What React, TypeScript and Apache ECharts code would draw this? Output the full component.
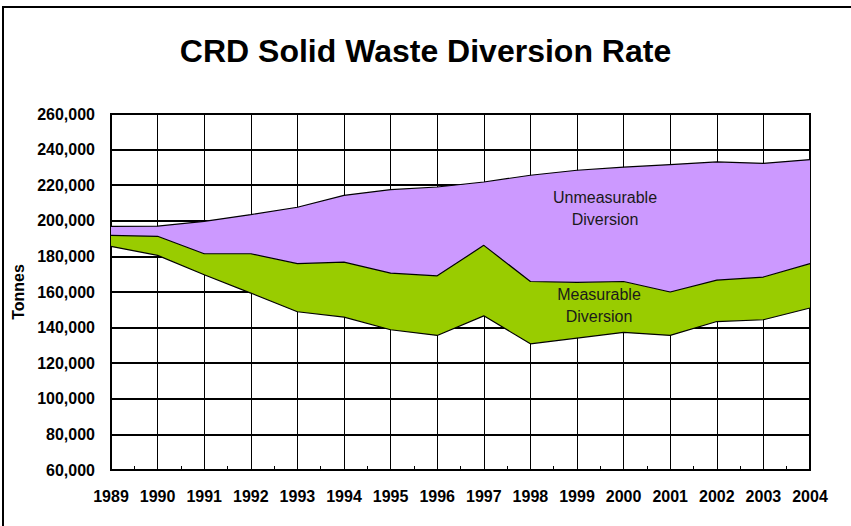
import React, { useEffect, useRef } from "react";
import * as echarts from "echarts";

const years = ["1989", "1990", "1991", "1992", "1993", "1994", "1995", "1996", "1997", "1998", "1999", "2000", "2001", "2002", "2003", "2004"];
// Boundary lines (tonnes)
const lowerLine = [185600, 180600, 169700, 159400, 148900, 145900, 138800, 135600, 146600, 130900, 134100, 137300, 135600, 143400, 144400, 151000];
const middleLine = [191800, 191300, 181500, 181500, 175900, 176800, 170600, 169100, 186200, 165900, 165400, 165900, 160000, 166700, 168400, 175900];
const upperLine = [196900, 197000, 199700, 203500, 207600, 214300, 217500, 219000, 221800, 225600, 228400, 230100, 231600, 233100, 232300, 234400];

const yMin = 60000;
const yMax = 260000;
const yStep = 20000;

const FONT = "'Liberation Sans', Arial, sans-serif";

export default function App() {
  const ref = useRef<HTMLDivElement>(null);
  useEffect(() => {
    if (!ref.current) return;
    const chart = echarts.init(ref.current, null, { renderer: "svg" });
    const measurable = middleLine.map((v, i) => v - lowerLine[i]);
    const unmeasurable = upperLine.map((v, i) => v - middleLine[i]);
    chart.setOption({
      animation: false,
      backgroundColor: "#fff",
      textStyle: { fontFamily: FONT },
      title: {
        text: "CRD Solid Waste Diversion Rate",
        left: "center",
        top: 30,
        textStyle: { fontFamily: FONT, fontSize: 32, fontWeight: "bold", color: "#000" },
      },
      grid: {
        left: 111,
        right: 41,
        top: 114,
        bottom: 56,
        show: true,
        borderColor: "#000",
        borderWidth: 2,
        backgroundColor: "transparent",
      },
      xAxis: [
        {
          type: "category",
          data: years,
          boundaryGap: false,
          axisLine: { show: true, lineStyle: { color: "#000", width: 2 } },
          axisTick: { show: false },
          axisLabel: {
            margin: 18,
            fontFamily: FONT,
            fontSize: 16,
            fontWeight: "bold",
            color: "#000",
            interval: 0,
          },
          splitLine: { show: true, lineStyle: { color: "#000", width: 1 } },
        },
        {
          type: "value",
          min: 0,
          max: 15,
          interval: 0.5,
          position: "bottom",
          axisLine: { show: false },
          axisLabel: { show: false },
          splitLine: { show: false },
          axisTick: { show: true, inside: true, length: 4, lineStyle: { color: "#000", width: 1 } },
        },
      ],
      yAxis: {
        type: "value",
        min: yMin,
        max: yMax,
        interval: yStep,
        axisLine: { show: true, lineStyle: { color: "#000", width: 2 } },
        axisTick: { show: false },
        axisLabel: {
          margin: 16,
          fontFamily: FONT,
          fontSize: 16,
          fontWeight: "bold",
          color: "#000",
          formatter: (v: number) => v.toLocaleString("en-US"),
        },
        splitLine: { show: true, lineStyle: { color: "#000", width: 2 } },
      },
      series: [
        {
          name: "Base",
          type: "line",
          stack: "total",
          data: lowerLine,
          symbol: "none",
          lineStyle: { color: "#000", width: 1.2 },
          z: 3,
        },
        {
          name: "Measurable Diversion",
          type: "line",
          stack: "total",
          data: measurable,
          symbol: "none",
          lineStyle: { color: "#000", width: 1.2 },
          areaStyle: { color: "#99CC00", opacity: 1 },
          z: 3,
        },
        {
          name: "Unmeasurable Diversion",
          type: "line",
          stack: "total",
          data: unmeasurable,
          symbol: "none",
          lineStyle: { color: "#000", width: 1.2 },
          areaStyle: { color: "#CC99FF", opacity: 1 },
          z: 3,
        },
      ],
      graphic: [
        {
          type: "rect",
          shape: { x: 3, y: 7, width: 900, height: 600 },
          style: { fill: "none", stroke: "#000", lineWidth: 2 },
          silent: true,
          z: -1,
        },
        {
          type: "text",
          x: 18,
          y: 292,
          rotation: Math.PI / 2,
          style: {
            text: "Tonnes",
            font: `bold 16px ${FONT}`,
            fill: "#000",
            textAlign: "center",
            textVerticalAlign: "middle",
          },
        },
        {
          type: "text",
          x: 605,
          y: 208,
          style: {
            text: "Unmeasurable\nDiversion",
            font: `16px ${FONT}`,
            lineHeight: 22,
            fill: "#1a1a1a",
            textAlign: "center",
            textVerticalAlign: "middle",
          },
          z: 10,
        },
        {
          type: "text",
          x: 599,
          y: 305,
          style: {
            text: "Measurable\nDiversion",
            font: `16px ${FONT}`,
            lineHeight: 22,
            fill: "#1a1a1a",
            textAlign: "center",
            textVerticalAlign: "middle",
          },
          z: 10,
        },
      ],
    });
    return () => chart.dispose();
  }, []);
  return (
    <div
      ref={ref}
      style={{ position: "fixed", left: 0, top: 0, width: 851, height: 526 }}
    />
  );
}
